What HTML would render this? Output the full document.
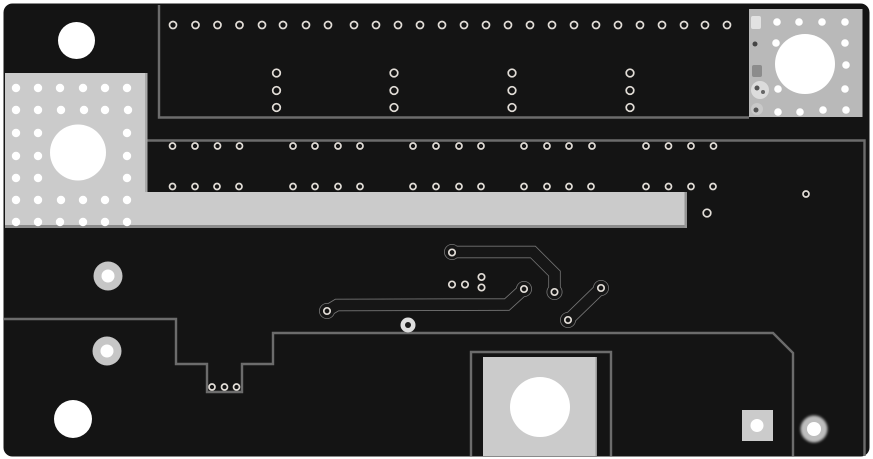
<!DOCTYPE html>
<html>
<head>
<meta charset="utf-8">
<style>
html,body{margin:0;padding:0;background:#fff;width:873px;height:459px;overflow:hidden}
svg{display:block}
</style>
</head>
<body>
<svg width="873" height="459" viewBox="0 0 873 459" xmlns="http://www.w3.org/2000/svg">
<defs>
<filter id="b" x="-10%" y="-10%" width="120%" height="120%"><feGaussianBlur stdDeviation="0.3"/></filter>
<filter id="g" x="-30%" y="-30%" width="160%" height="160%"><feGaussianBlur stdDeviation="1.2"/></filter>
</defs>
<rect x="0" y="0" width="873" height="459" fill="#fff"/>
<rect x="3.5" y="3.5" width="866" height="453" rx="9" fill="#141414"/>
<g filter="url(#b)">
<!-- outlines -->
<g fill="none" stroke="#6c6c6c" stroke-width="2.4">
<path d="M159 5V117.500H749"/>
<path d="M147 140.500H864.500V456"/>
<path d="M4 319H176V364H207V392H242V364H273V333H773L793 353V456"/>
<path d="M471 456V352H611V456"/>
</g>
<!-- left pad -->
<path d="M5 73H147V192H687V228H5Z" fill="#cbcbcb"/>
<path d="M5 225H687V228H5Z" fill="#8c8c8c"/>
<path d="M684.500 192H687V228H684.500Z" fill="#949494"/>
<path d="M145 73H147.500V192H145Z" fill="#a8a8a8"/>
<!-- right pad -->
<rect x="749" y="9" width="113.500" height="108" fill="#b9b9b9"/>
<!-- bottom pad -->
<rect x="483" y="357" width="114" height="99" fill="#cbcbcb"/>
<rect x="595.500" y="357" width="1.500" height="99" fill="#999"/>
<!-- square pad -->
<rect x="742" y="410" width="31" height="31" fill="#cbcbcb"/>
<!-- ring pads -->
<circle cx="108" cy="276" r="14.500" fill="#c6c6c6"/>
<circle cx="107" cy="351" r="14.500" fill="#c6c6c6"/>
<circle cx="408" cy="325" r="7.500" fill="#dedede"/>
<circle cx="408" cy="325" r="3" fill="#1a1a1a"/>
<!-- traces -->
<g fill="none" stroke="#767676" stroke-width="12.4" stroke-linejoin="miter">
<path d="M452 252H533L554.500 273.500V292"/>
<path d="M327 311L337 305L507 304.500L524 289"/>
<path d="M568 320L601 288"/>
</g>
<g fill="#767676">
<circle cx="452" cy="252" r="8"/><circle cx="554.500" cy="292" r="8"/>
<circle cx="327" cy="311" r="8"/><circle cx="524" cy="289" r="8"/>
<circle cx="568" cy="320" r="8"/><circle cx="601" cy="288" r="8"/>
</g>
<g fill="none" stroke="#141414" stroke-width="10.800" stroke-linejoin="miter">
<path d="M452 252H533L554.500 273.500V292"/>
<path d="M327 311L337 305L507 304.500L524 289"/>
<path d="M568 320L601 288"/>
</g>
<g fill="#141414">
<circle cx="452" cy="252" r="7.200"/><circle cx="554.500" cy="292" r="7.200"/>
<circle cx="327" cy="311" r="7.200"/><circle cx="524" cy="289" r="7.200"/>
<circle cx="568" cy="320" r="7.200"/><circle cx="601" cy="288" r="7.200"/>
</g>
<!-- white holes -->
<g fill="#fff">
<circle cx="76.500" cy="40.500" r="18.500"/>
<circle cx="78" cy="152.500" r="28"/>
<circle cx="805" cy="64" r="30"/>
<circle cx="540" cy="407" r="30"/>
<circle cx="73" cy="419" r="19"/>
<circle cx="108" cy="276" r="6.500"/>
<circle cx="107" cy="351" r="6.500"/>
<circle cx="757" cy="425.500" r="6.500"/>
<!-- left pad dots -->
<circle cx="16" cy="88" r="4.200"/><circle cx="38" cy="88" r="4.200"/><circle cx="60" cy="88" r="4.200"/><circle cx="83" cy="88" r="4.200"/><circle cx="105" cy="88" r="4.200"/><circle cx="127" cy="88" r="4.200"/>
<circle cx="16" cy="110" r="4.200"/><circle cx="38" cy="110" r="4.200"/><circle cx="61" cy="110" r="4.200"/><circle cx="84" cy="110" r="4.200"/><circle cx="105" cy="110" r="4.200"/><circle cx="128" cy="110" r="4.200"/>
<circle cx="16" cy="133" r="4.200"/><circle cx="38" cy="133" r="4.200"/><circle cx="127" cy="133" r="4.200"/>
<circle cx="16" cy="156" r="4.200"/><circle cx="38" cy="156" r="4.200"/><circle cx="127" cy="156" r="4.200"/>
<circle cx="16" cy="178" r="4.200"/><circle cx="38" cy="178" r="4.200"/><circle cx="127" cy="178" r="4.200"/>
<circle cx="16" cy="200" r="4.200"/><circle cx="38" cy="200" r="4.200"/><circle cx="61" cy="200" r="4.200"/><circle cx="83" cy="200" r="4.200"/><circle cx="105" cy="200" r="4.200"/><circle cx="127" cy="200" r="4.200"/>
<circle cx="16" cy="222" r="4.200"/><circle cx="38" cy="222" r="4.200"/><circle cx="60" cy="222" r="4.200"/><circle cx="83" cy="222" r="4.200"/><circle cx="105" cy="222" r="4.200"/><circle cx="127" cy="222" r="4.200"/>
<!-- right pad dots -->
<circle cx="777" cy="22" r="3.800"/><circle cx="799" cy="22" r="3.800"/><circle cx="822" cy="22" r="3.800"/><circle cx="845" cy="22" r="3.800"/>
<circle cx="776" cy="43" r="3.800"/><circle cx="845" cy="43" r="3.800"/>
<circle cx="846" cy="65" r="3.800"/>
<circle cx="778" cy="89" r="3.800"/><circle cx="845" cy="89" r="3.800"/>
<circle cx="778" cy="112" r="3.800"/><circle cx="800" cy="112" r="3.800"/><circle cx="823" cy="110" r="3.800"/><circle cx="846" cy="110" r="3.800"/>
</g>
<!-- plated blobs on right pad -->
<rect x="751" y="16" width="10" height="13" rx="2" fill="#e2e2e2"/>
<circle cx="755" cy="44" r="2.500" fill="#444"/>
<rect x="752" y="65" width="10" height="12" rx="2" fill="#8c8c8c"/>
<circle cx="760" cy="90" r="9" fill="#dcdcdc"/>
<circle cx="757" cy="88" r="2.500" fill="#555"/>
<circle cx="763" cy="92" r="2" fill="#666"/>
<circle cx="757" cy="109" r="6" fill="#c9c9c9"/>
<circle cx="756" cy="110" r="2.500" fill="#555"/>
<!-- glow pad -->
<circle cx="814" cy="429" r="13.500" fill="#bdbdbd" filter="url(#g)"/>
<circle cx="814" cy="429" r="7" fill="#fff"/>
<!-- vias -->
<g fill="none" stroke="#e2ddd7" stroke-width="1.700">
<g>
<circle cx="173" cy="25" r="3.500"/><circle cx="195.500" cy="25" r="3.500"/><circle cx="217.500" cy="25" r="3.500"/><circle cx="239.500" cy="25" r="3.500"/><circle cx="262" cy="25" r="3.500"/><circle cx="283" cy="25" r="3.500"/><circle cx="306" cy="25" r="3.500"/><circle cx="328" cy="25" r="3.500"/><circle cx="354" cy="25" r="3.500"/><circle cx="376" cy="25" r="3.500"/><circle cx="398" cy="25" r="3.500"/><circle cx="420" cy="25" r="3.500"/><circle cx="442" cy="25" r="3.500"/><circle cx="464" cy="25" r="3.500"/><circle cx="486" cy="25" r="3.500"/><circle cx="508" cy="25" r="3.500"/><circle cx="530" cy="25" r="3.500"/><circle cx="552" cy="25" r="3.500"/><circle cx="574" cy="25" r="3.500"/><circle cx="596" cy="25" r="3.500"/><circle cx="618" cy="25" r="3.500"/><circle cx="640" cy="25" r="3.500"/><circle cx="662" cy="25" r="3.500"/><circle cx="684" cy="25" r="3.500"/><circle cx="705" cy="25" r="3.500"/><circle cx="727" cy="25" r="3.500"/>
</g>
<g>
<circle cx="276.500" cy="73" r="3.800"/><circle cx="276.500" cy="90.500" r="3.800"/><circle cx="276.500" cy="107.500" r="3.800"/>
<circle cx="394" cy="73" r="3.800"/><circle cx="394" cy="90.500" r="3.800"/><circle cx="394" cy="107.500" r="3.800"/>
<circle cx="512" cy="73" r="3.800"/><circle cx="512" cy="90.500" r="3.800"/><circle cx="512" cy="107.500" r="3.800"/>
<circle cx="630" cy="73" r="3.800"/><circle cx="630" cy="90.500" r="3.800"/><circle cx="630" cy="107.500" r="3.800"/>
</g>
<g>
<circle cx="172.500" cy="146" r="3"/><circle cx="195" cy="146" r="3"/><circle cx="217.500" cy="146" r="3"/><circle cx="239.500" cy="146" r="3"/>
<circle cx="293" cy="146" r="3"/><circle cx="315" cy="146" r="3"/><circle cx="338" cy="146" r="3"/><circle cx="360" cy="146" r="3"/>
<circle cx="413" cy="146" r="3"/><circle cx="436" cy="146" r="3"/><circle cx="459" cy="146" r="3"/><circle cx="481" cy="146" r="3"/>
<circle cx="524" cy="146" r="3"/><circle cx="547" cy="146" r="3"/><circle cx="569" cy="146" r="3"/><circle cx="592" cy="146" r="3"/>
<circle cx="646" cy="146" r="3"/><circle cx="668.500" cy="146" r="3"/><circle cx="691" cy="146" r="3"/><circle cx="713.500" cy="146" r="3"/>
</g>
<g>
<circle cx="172.500" cy="186.500" r="3"/><circle cx="195" cy="186.500" r="3"/><circle cx="217" cy="186.500" r="3"/><circle cx="239" cy="186.500" r="3"/>
<circle cx="293" cy="186.500" r="3"/><circle cx="315" cy="186.500" r="3"/><circle cx="338" cy="186.500" r="3"/><circle cx="360" cy="186.500" r="3"/>
<circle cx="413" cy="186.500" r="3"/><circle cx="436" cy="186.500" r="3"/><circle cx="459" cy="186.500" r="3"/><circle cx="481" cy="186.500" r="3"/>
<circle cx="524" cy="186.500" r="3"/><circle cx="547" cy="186.500" r="3"/><circle cx="569" cy="186.500" r="3"/><circle cx="591" cy="186.500" r="3"/>
<circle cx="646" cy="186.500" r="3"/><circle cx="668.500" cy="186.500" r="3"/><circle cx="691" cy="186.500" r="3"/><circle cx="713" cy="186.500" r="3"/>
</g>
<circle cx="707" cy="213" r="3.800"/>
<circle cx="806" cy="194" r="3"/>
<circle cx="212" cy="387" r="3"/><circle cx="224.500" cy="387" r="3"/><circle cx="236.500" cy="387" r="3"/>
<circle cx="452" cy="284.500" r="3.200"/><circle cx="465" cy="284.500" r="3.200"/><circle cx="481.500" cy="277" r="3.200"/><circle cx="481.500" cy="287.500" r="3.200"/>
<circle cx="452" cy="252.500" r="3.200"/><circle cx="554.500" cy="292" r="3.200"/><circle cx="327" cy="311" r="3.200"/><circle cx="524" cy="289" r="3.200"/><circle cx="568" cy="320" r="3.200"/><circle cx="601" cy="288" r="3.200"/>
</g>
</g>
</svg>
</body>
</html>
